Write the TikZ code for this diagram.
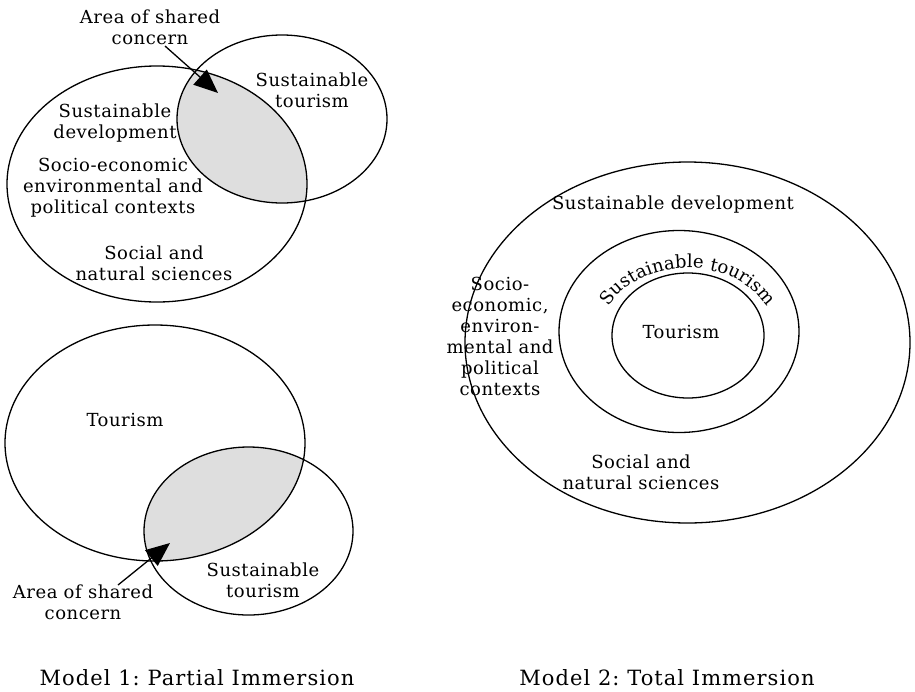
\documentclass[tikz,border=0pt]{standalone}
\usepackage{fontspec}
\setmainfont{DejaVu Serif}
\newfontfamily\bodyfam[LetterSpace=3]{DejaVu Serif}
\newfontfamily\capfam[LetterSpace=5]{DejaVu Serif}
\usetikzlibrary{arrows.meta,decorations.text}
\newcommand\arcfont{\bodyfam\fontsize{18}{21}\selectfont}
\frenchspacing
\begin{document}
\begin{tikzpicture}[x=1pt,y=1pt,
  ring/.style={draw=black, line width=1.3pt},
  shared/.style={fill=black!13},
  lbl/.style={align=center, inner sep=0pt, font=\bodyfam\fontsize{18}{21}\selectfont},
  capline/.style={inner sep=0pt, anchor=base, font=\capfam\fontsize{21}{24}\selectfont},
  pointer/.style={draw=black, line width=1.3pt, -{Triangle[length=24pt,width=20pt]}}]
\useasboundingbox (0,0) rectangle (915,-691);

% ---------- Model 1, upper diagram ----------
\begin{scope}
  \clip (157,-184) ellipse [x radius=150, y radius=118];
  \fill[shared] (282,-119) ellipse [x radius=105, y radius=84];
\end{scope}
\draw[ring] (157,-184) ellipse [x radius=150, y radius=118];
\draw[ring] (282,-119) ellipse [x radius=105, y radius=84];

\node[lbl] (asc1) at (150,-27) {Area of shared\\concern};
\node[lbl] (st1) at (312,-90) {Sustainable\\tourism};
\node[lbl] (sd1) at (115,-123) {Sustainable\\development};
\node[lbl] (sep1) at (113,-188) {Socio-economic\\environmental and\\political contexts};
\node[lbl] (sns1) at (154,-263) {Social and\\natural sciences};
\coordinate (p1s) at (165,-46);
\coordinate (p1e) at (218,-93);
\draw[pointer] (p1s) -- (p1e);

% ---------- Model 1, lower diagram ----------
\begin{scope}
  \clip (155,-443) ellipse [x radius=150, y radius=118];
  \fill[shared] (248.5,-531) ellipse [x radius=104.5, y radius=84];
\end{scope}
\draw[ring] (155,-443) ellipse [x radius=150, y radius=118];
\draw[ring] (248.5,-531) ellipse [x radius=104.5, y radius=84];

\node[lbl] (tour1) at (125,-420) {Tourism};
\node[lbl] (st2) at (263,-580) {Sustainable\\tourism};
\node[lbl] (asc2) at (83,-602) {Area of shared\\concern};
\coordinate (p2s) at (118,-585);
\coordinate (p2e) at (170,-543);
\draw[pointer] (p2s) -- (p2e);

% ---------- Model 2 ----------
\draw[ring] (687.5,-342.5) ellipse [x radius=222.5, y radius=180.5];
\draw[ring] (679,-331.5) ellipse [x radius=120, y radius=101];
\draw[ring] (688,-335.5) ellipse [x radius=76, y radius=62.5];

\node[lbl] (sd2) at (673,-205) {Sustainable development};
\node[lbl] (sep2) at (500,-336) {Socio-\\economic,\\environ-\\mental and\\political\\contexts};
\node[lbl] (sns2) at (641,-472) {Social and\\natural sciences};
\node[lbl] (tour2) at (681,-332) {Tourism};
\path[decorate, decoration={text along path, text align=center,
      text={|\arcfont|Sustainable tourism}}]
  (688,-338) ++(165:89 and 70) arc[start angle=165, end angle=15, x radius=89, y radius=70];

% ---------- captions ----------
\node[capline] (cap1) at (197,-685) {Model 1: Partial Immersion};
\node[capline] (cap2) at (667,-685) {Model 2: Total Immersion};
\end{tikzpicture}
\end{document}
